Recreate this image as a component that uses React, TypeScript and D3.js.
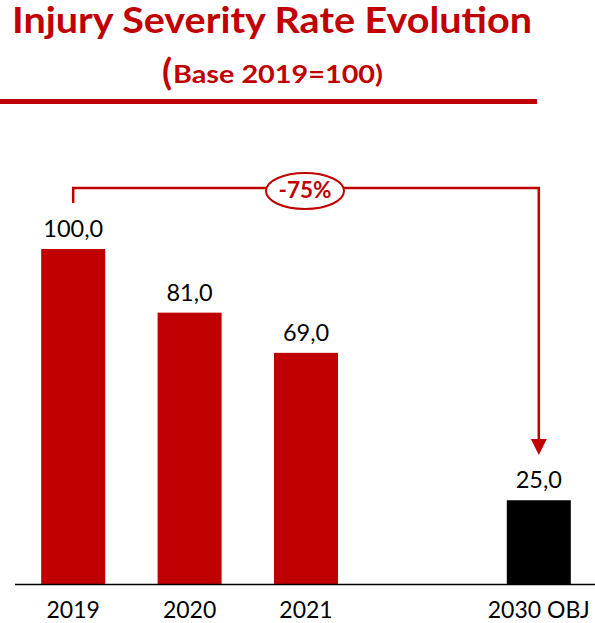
import React, { useEffect, useRef } from "react";
import * as d3 from "d3";

const categories = ["2019", "2020", "2021", "", "2030 OBJ"];
const values: (number | null)[] = [100, 81, 69, null, 25];
const barColors = ["#C00000", "#C00000", "#C00000", "none", "#000000"];
const valueLabels = ["100,0", "81,0", "69,0", "", "25,0"];
const titleText = "Injury Severity Rate Evolution";
const subtitleText = "Base 2019=100)";
const changeLabel = "-75%";

const W = 595;
const H = 623;
const RED = "#C00000";
const FONT = "Lato, 'Open Sans', sans-serif";

export default function App() {
  const ref = useRef<SVGSVGElement>(null);

  useEffect(() => {
    const svg = d3.select(ref.current);
    svg.selectAll("*").remove();

    const x = d3
      .scaleBand<string>()
      .domain(categories.map((c, i) => String(i)))
      .range([15, 597])
      .paddingInner(0.45)
      .paddingOuter(0.225);
    const y = d3.scaleLinear().domain([0, 100]).range([584, 249]);

    // Title
    svg
      .append("text")
      .attr("x", 12)
      .attr("y", 33)
      .attr("font-family", FONT)
      .attr("font-weight", "bold")
      .attr("font-size", 37)
      .attr("textLength", 520)
      .attr("lengthAdjust", "spacingAndGlyphs")
      .attr("fill", RED)
      .text(titleText);

    svg
      .append("text")
      .attr("x", 162)
      .attr("y", 85)
      .attr("font-family", FONT)
      .attr("font-weight", "bold")
      .attr("font-size", 37)
      .attr("fill", RED)
      .text("(");
    svg
      .append("text")
      .attr("x", 173)
      .attr("y", 83)
      .attr("font-family", FONT)
      .attr("font-weight", "bold")
      .attr("font-size", 25)
      .attr("textLength", 210)
      .attr("lengthAdjust", "spacingAndGlyphs")
      .attr("fill", RED)
      .text(subtitleText);

    svg
      .append("rect")
      .attr("x", 0)
      .attr("y", 99)
      .attr("width", 537)
      .attr("height", 5)
      .attr("fill", RED);

    // Bars
    const data = categories.map((c, i) => ({ c, i, v: values[i], color: barColors[i], label: valueLabels[i] }));
    const bars = data.filter((d) => d.v !== null);

    svg
      .selectAll("rect.bar")
      .data(bars)
      .enter()
      .append("rect")
      .attr("class", "bar")
      .attr("x", (d) => x(String(d.i))!)
      .attr("width", x.bandwidth())
      .attr("y", (d) => y(d.v as number))
      .attr("height", (d) => y(0) - y(d.v as number))
      .attr("fill", (d) => d.color);

    svg
      .selectAll("text.val")
      .data(bars)
      .enter()
      .append("text")
      .attr("class", "val")
      .attr("x", (d) => x(String(d.i))! + x.bandwidth() / 2)
      .attr("y", (d) => y(d.v as number) - 12)
      .attr("text-anchor", "middle")
      .attr("font-family", FONT)
      .attr("font-size", 23.5)
      .attr("fill", "#000")
      .text((d) => d.label);

    // Axis line
    svg
      .append("line")
      .attr("x1", 15)
      .attr("x2", 595)
      .attr("y1", y(0) + 0.5)
      .attr("y2", y(0) + 0.5)
      .attr("stroke", "#000")
      .attr("stroke-width", 1.5);

    svg
      .selectAll("text.cat")
      .data(data.filter((d) => d.c !== ""))
      .enter()
      .append("text")
      .attr("class", "cat")
      .attr("x", (d) => x(String(d.i))! + x.bandwidth() / 2)
      .attr("y", 618)
      .attr("text-anchor", "middle")
      .attr("font-family", FONT)
      .attr("font-size", 23)
      .attr("fill", "#000")
      .text((d) => d.c);

    // Bracket
    const x0 = x("0")! + x.bandwidth() / 2;
    const x4 = x("4")! + x.bandwidth() / 2;
    const yB = 188;
    const tipY = 455;
    svg
      .append("path")
      .attr("d", `M${x0},203 L${x0},${yB} L${x4},${yB} L${x4},${tipY - 14}`)
      .attr("fill", "none")
      .attr("stroke", RED)
      .attr("stroke-width", 2.5);
    svg
      .append("path")
      .attr("d", `M${x4 - 8},${tipY - 16} L${x4 + 8},${tipY - 16} L${x4},${tipY} Z`)
      .attr("fill", RED);

    svg
      .append("ellipse")
      .attr("cx", 305)
      .attr("cy", 191)
      .attr("rx", 39)
      .attr("ry", 18)
      .attr("fill", "#fff")
      .attr("stroke", RED)
      .attr("stroke-width", 2);
    svg
      .append("text")
      .attr("x", 305)
      .attr("y", 198)
      .attr("text-anchor", "middle")
      .attr("font-family", FONT)
      .attr("font-weight", "bold")
      .attr("font-size", 23)
      .attr("textLength", 53)
      .attr("lengthAdjust", "spacingAndGlyphs")
      .attr("fill", RED)
      .text(changeLabel);
  }, []);

  return (
    <div style={{ position: "absolute", left: 0, top: 0 }}>
      <svg ref={ref} width={W} height={H} style={{ display: "block", background: "#fff" }} />
    </div>
  );
}
